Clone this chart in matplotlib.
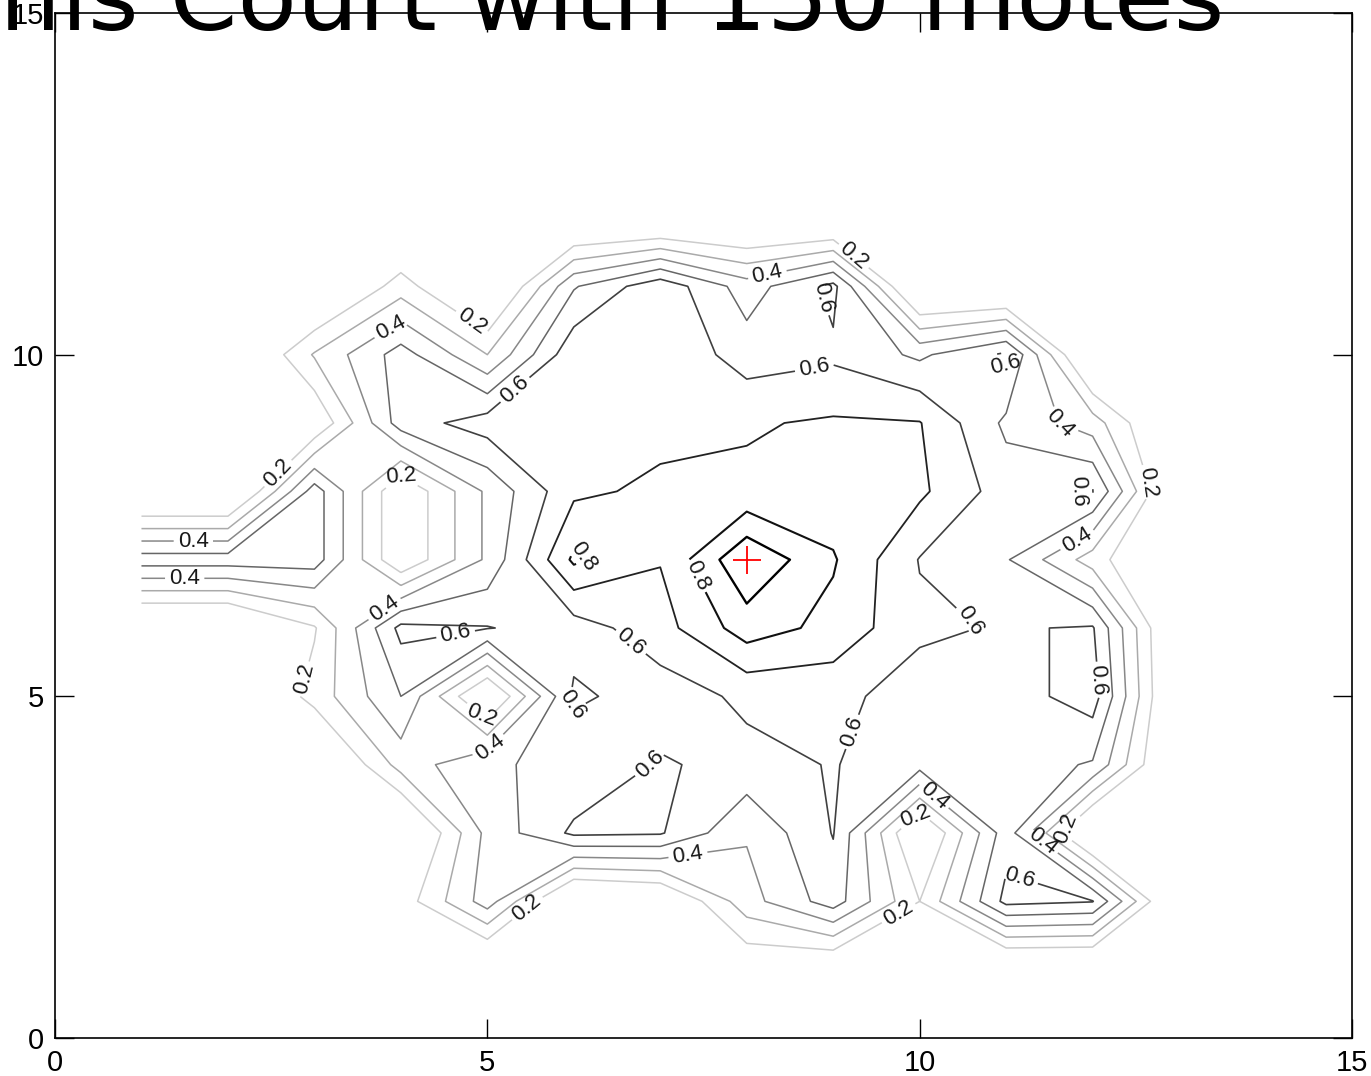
import matplotlib
matplotlib.use("Agg")
import matplotlib.pyplot as plt
import numpy as np

# ---- data (grid of sensed values, x = 1..14, y = 1..13) ----
x_nodes = [1, 2, 3, 4, 5, 6, 7, 8, 9, 10, 11, 12, 13, 14]
y_nodes = [1, 2, 3, 4, 5, 6, 7, 8, 9, 10, 11, 12, 13]
row_y1  = [0, 0, 0, 0, 0, 0, 0, 0.10, 0.06, 0, 0, 0, 0, 0]
row_y2  = [0, 0, 0, 0.14, 0.45, 0.0, 0.05, 0.36, 0.55, 0.20, 0.63, 0.605, 0, 0]
row_y3  = [0, 0, 0, 0.0, 0.43, 0.62, 0.61, 0.41, 0.605, 0.05, 0.556, 0, 0, 0]
row_y4  = [0, 0, 0, 0.34, 0.49, 0.52, 0.61, 0.57, 0.605, 0.54, 0.55, 0.49, 0, 0]
row_y5  = [0, 0, 0.24, 0.50, 0.05, 0.62, 0.55, 0.62, 0.63, 0.55, 0.55, 0.65, 0, 0]
row_y6  = [0, 0, 0.19, 0.63, 0.605, 0.55, 0.66, 0.85, 0.77, 0.62, 0.59, 0.61, 0, 0]
row_y7  = [0.55, 0.55, 0.55, 0.10, 0.42, 0.82, 0.705, 0.99, 0.81, 0.595, 0.51, 0.25, 0, 0]
row_y8  = [0, 0, 0.55, 0.10, 0.42, 0.68, 0.72, 0.72, 0.74, 0.72, 0.55, 0.61, 0, 0]
row_y9  = [0, 0, 0.10, 0.55, 0.65, 0.66, 0.67, 0.69, 0.713, 0.705, 0.48, 0.35, 0, 0]
row_y10 = [0, 0, 0.31, 0.545, 0.30, 0.675, 0.69, 0.55, 0.58, 0.48, 0.62, 0, 0, 0]
row_y11 = [0, 0, 0, 0.25, 0.0, 0.49, 0.67, 0.45, 0.63, 0.0, 0.0, 0, 0, 0]
row_y12 = [0, 0, 0, 0, 0, 0, 0, 0, 0, 0, 0, 0, 0, 0]
row_y13 = [0, 0, 0, 0, 0, 0, 0, 0, 0, 0, 0, 0, 0, 0]

labeled_levels = [0.2, 0.4, 0.6, 0.8]
plain_levels = [0.3, 0.5, 0.7, 0.9]
target_x = [8.0]
target_y = [7.0]
title_text = "Tennis Court with 150 motes"
xticks = [0, 5, 10, 15]
yticks = [0, 5, 10, 15]

# ---- styles ----
labeled_grays = ["#cccccc", "#888888", "#404040", "#111111"]
labeled_widths = [1.1, 1.1, 1.2, 1.5]
plain_grays = ["#aaaaaa", "#666666", "#222222", "#000000"]
plain_widths = [1.1, 1.1, 1.3, 1.7]

label_positions = [
    (4.89, 10.59), (3.9, 10.37), (5.38, 9.41), (2.6, 8.24), (3.99, 8.32),
    (1.6, 7.22), (1.5, 6.75), (3.7, 6.46), (4.63, 5.93), (2.93, 5.24),
    (4.92, 4.7), (5.03, 4.25), (6.01, 4.88), (6.13, 7.07), (7.4, 6.75),
    (6.65, 5.78), (9.22, 4.48), (7.0, 3.85), (7.32, 2.68), (5.46, 1.9),
    (9.77, 1.8), (9.94, 3.26), (10.23, 3.63), (11.39, 2.83), (11.7, 3.05),
    (11.13, 2.27), (10.66, 6.19), (12.03, 5.24), (11.82, 7.29), (11.66, 8.05),
    (12.64, 8.13), (11.62, 8.98), (10.96, 9.75), (8.79, 9.75), (8.62, 10.73),
    (8.23, 11.22), (9.33, 11.57),
]

Z = np.array([row_y1, row_y2, row_y3, row_y4, row_y5, row_y6, row_y7,
              row_y8, row_y9, row_y10, row_y11, row_y12, row_y13])
X, Y = np.meshgrid(x_nodes, y_nodes)

W, H = 1371, 1076
fig = plt.figure(figsize=(W / 100, H / 100), dpi=100)
ax = fig.add_axes([55 / W, (H - 1038) / H, 1297 / W, (1038 - 13) / H])

ax.contour(X, Y, Z, levels=plain_levels, colors=plain_grays, linewidths=plain_widths)
cs = ax.contour(X, Y, Z, levels=labeled_levels, colors=labeled_grays,
                linewidths=labeled_widths)
labels = ax.clabel(cs, manual=label_positions, inline=True, fmt="%.1f",
                   fontsize=16, colors="#1a1a1a")
for t in labels:
    t.set_fontfamily(["Liberation Sans", "DejaVu Sans"])

ax.plot(target_x, target_y, "+", color="red", markersize=20, markeredgewidth=1.3)

ax.set_xlim(0, 15)
ax.set_ylim(0, 15)
ax.set_xticks(xticks)
ax.set_yticks(yticks)
tick_font = ["Liberation Sans Narrow", "Liberation Sans", "DejaVu Sans"]
ax.tick_params(direction="in", length=14, width=1, top=True, right=True,
               labelsize=21, pad=8)
for lab in ax.get_xticklabels() + ax.get_yticklabels():
    lab.set_fontfamily(tick_font)
for sp in ax.spines.values():
    sp.set_linewidth(1.2)

fig.text(1225 / W, 1 - 30 / H, title_text, ha="right", va="baseline",
         fontsize=70, family="DejaVu Sans", color="black")

fig.savefig("out.png", dpi=100)
